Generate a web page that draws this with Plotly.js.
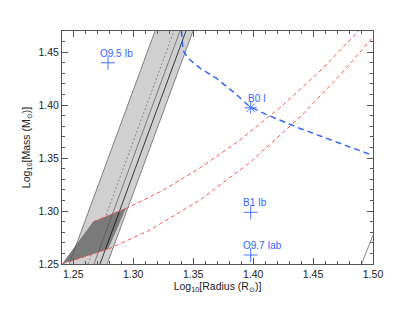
<!DOCTYPE html>
<html>
<head>
<meta charset="utf-8">
<script src="https://cdn.plot.ly/plotly-3.0.1.min.js"></script>
<style>html,body{margin:0;padding:0;background:#fff;}#chart{width:415px;height:312px;}</style>
</head>
<body>
<div id="chart"></div>
<script>
// ---- data ----
// light gray band (polygon: left edge bottom->top, right edge top->bottom)
var bandX = [1.2466, 1.3182, 1.3499, 1.2783];
var bandY = [1.25, 1.47, 1.47, 1.25];
// lines inside the band
var bandLeftX = [1.2466, 1.3182];
var bandRightX = [1.2783, 1.3499];
var bandDotX = [1.2623, 1.3340];
var bandSolid1X = [1.2673, 1.3390];
var bandSolid2X = [1.2723, 1.3440];
var bandLineY = [1.25, 1.47];
// dark overlap region
var darkX = [1.2406, 1.2665, 1.2942, 1.2790];
var darkY = [1.25, 1.2899, 1.3030, 1.2640];
// red dashed curves
var redUpX = [1.2665, 1.2940, 1.3223, 1.3557, 1.3891, 1.4224, 1.4558, 1.4883, 1.4975];
var redUpY = [1.2899, 1.3023, 1.3181, 1.3406, 1.3671, 1.3976, 1.4322, 1.4698, 1.4811];
var redLoX = [1.2406, 1.2790, 1.3140, 1.3557, 1.3974, 1.4391, 1.4725, 1.5000];
var redLoY = [1.2500, 1.2640, 1.2821, 1.3104, 1.3459, 1.3888, 1.4283, 1.4643];
// blue dashed curve
var blueX = [1.3403, 1.3415, 1.3457, 1.3557, 1.3696, 1.3835, 1.3974, 1.4113, 1.4391, 1.4669, 1.5000];
var blueY = [1.4700, 1.4519, 1.4443, 1.4349, 1.4252, 1.4125, 1.3984, 1.3910, 1.3780, 1.3660, 1.3524];
// second band edge (bottom right)
var band2X = [1.4905, 1.5];
var band2Y = [1.25, 1.2774];
// stars
var starNames = ['O9.5 Ib', 'B0 I', 'B1 Ib', 'O9.7 Iab'];
var starX = [1.279, 1.398, 1.398, 1.398];
var starY = [1.440, 1.3975, 1.2988, 1.2585];
var starSymbols = ['cross-thin-open', 'asterisk-open', 'cross-thin-open', 'cross-thin-open'];

var BLUE = '#3366ff';
var RED = '#ff5555';
var AX = '#555555';
var FONT = 'Liberation Sans, Arial, sans-serif';

function line(x, y, color, width, dash) {
  return {x: x, y: y, mode: 'lines', type: 'scatter', hoverinfo: 'skip',
          line: {color: color, width: width, dash: dash || 'solid'}, showlegend: false};
}

var traces = [
  {x: bandX.concat([bandX[0]]), y: bandY.concat([bandY[0]]), type: 'scatter', mode: 'lines',
   fill: 'toself', fillcolor: '#d0d0d0', line: {width: 0}, showlegend: false, hoverinfo: 'skip'},
  {x: darkX.concat([darkX[0]]), y: darkY.concat([darkY[0]]), type: 'scatter', mode: 'lines',
   fill: 'toself', fillcolor: '#7a7a7a', line: {width: 0}, showlegend: false, hoverinfo: 'skip'},
  line(bandLeftX, bandLineY, '#555', 0.7),
  line(bandRightX, bandLineY, '#555', 0.7),
  line(bandDotX, bandLineY, '#777', 0.8, '2px,2px'),
  line(bandSolid1X, bandLineY, '#555', 0.7),
  line(bandSolid2X, bandLineY, '#111', 0.8),
  line(band2X, band2Y, '#555', 0.7),
  line(redUpX, redUpY, RED, 1, '4px,3px'),
  line(redLoX, redLoY, RED, 1, '4px,3px'),
  line(blueX, blueY, BLUE, 1.5, '6px,4px'),
  {x: starX, y: starY, type: 'scatter', mode: 'markers', showlegend: false,
   marker: {symbol: starSymbols, size: 10, color: BLUE, line: {color: BLUE, width: 0.9}}}
];

var annotations = starNames.map(function (n, i) {
  return {x: starX[i], y: starY[i], xref: 'x', yref: 'y', text: n, showarrow: false,
          xanchor: 'left', yanchor: 'middle', xshift: (i === 1 ? -5 : -10), yshift: 9.5,
          font: {family: FONT, size: 10, color: BLUE}};
});

var axCommon = {
  showgrid: false, zeroline: false, showline: true, linecolor: AX, linewidth: 1,
  mirror: 'ticks', ticks: 'inside', ticklen: 6, tickcolor: AX, tickwidth: 1,
  tickformat: '.2f', dtick: 0.05, tick0: 1.25,
  tickfont: {family: FONT, size: 10.5, color: '#222'},
  minor: {dtick: 0.01, tick0: 1.25, ticks: 'inside', ticklen: 3, tickcolor: AX, tickwidth: 1},
  automargin: false
};

var layout = {
  width: 415, height: 312,
  margin: {l: 62, r: 42, t: 31, b: 48},
  paper_bgcolor: '#fff', plot_bgcolor: '#fff',
  showlegend: false,
  xaxis: Object.assign({}, axCommon, {
    range: [1.2406, 1.5],
    title: {text: 'Log<sub>10</sub>[Radius (R<sub>⊙</sub>)]', standoff: 2,
            font: {family: FONT, size: 10.5, color: '#222'}}
  }),
  yaxis: Object.assign({}, axCommon, {
    range: [1.25, 1.47],
    title: {text: 'Log<sub>10</sub>[Mass (M<sub>⊙</sub>)]', standoff: 5,
            font: {family: FONT, size: 10.5, color: '#222'}}
  }),
  annotations: annotations
};

Plotly.newPlot('chart', traces, layout, {staticPlot: true, displayModeBar: false});
</script>
</body>
</html>
